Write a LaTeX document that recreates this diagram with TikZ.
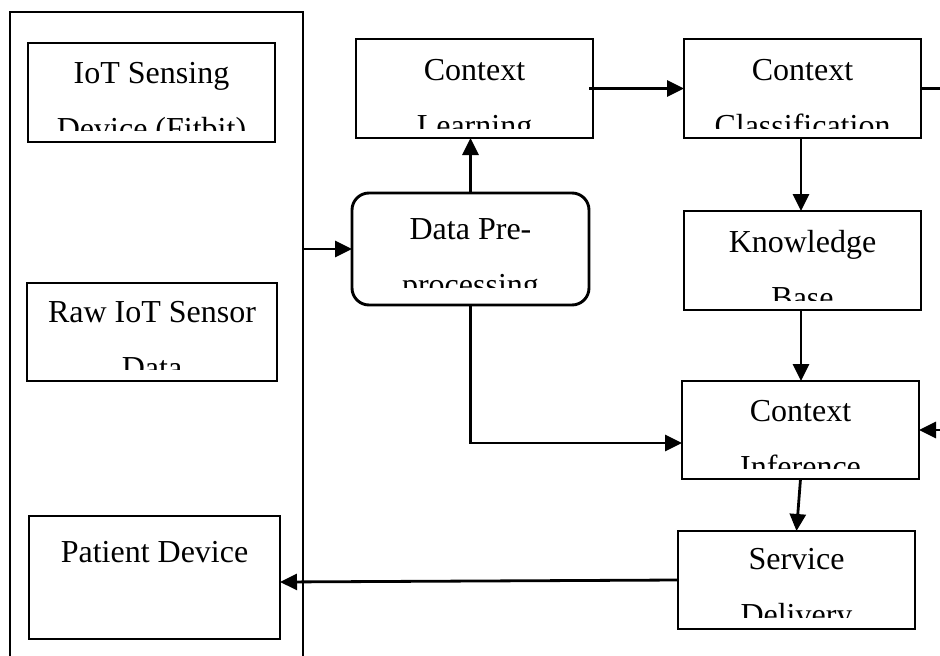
\documentclass[tikz,border=0pt]{standalone}
\usepackage{fontspec}
\setmainfont{Liberation Serif}
\usetikzlibrary{arrows.meta}

\tikzset{
  box/.style={draw, line width=2.9pt, inner sep=0pt, outer sep=0pt},
  roundbox/.style={box, rounded corners=17pt},
  lbl/.style={anchor=base, inner sep=0pt, font=\fontsize{32pt}{38pt}\selectfont},
  link/.style={line width=2.8pt},
  conn/.style={link, -{Triangle[length=17pt,width=16pt]}}
}

% Two-line label whose second line is cut off by the box's text area:
% #1 node, #2 first line, #3 second line, #4 baseline drop, #5 clip drop
\newcommand\twolines[5]{%
  \begin{scope}
    \clip (#1.north west) rectangle ([yshift=-#5pt]#1.north east);
    \node[lbl] at ([yshift=-#4pt]#1.north) {#2};
    \node[lbl] at ([yshift=-#4pt-56pt]#1.north) {#3};
  \end{scope}}

\begin{document}
\begin{tikzpicture}[x=1pt, y=-1pt]
  \useasboundingbox (0,0) rectangle (940,656);
  \clip (0,0) rectangle (940,656);

  % device column
  \node[box, minimum width=293pt, minimum height=688pt] (outer) at (156.5,356) {};
  \node[box, minimum width=247pt, minimum height=99pt]  (iot)     at (151.5,92.5) {};
  \node[box, minimum width=250pt, minimum height=98pt]  (raw)     at (152,332) {};
  \node[box, minimum width=251pt, minimum height=123pt] (patient) at (154.5,577.5) {};

  % processing pipeline
  \node[box, minimum width=237pt, minimum height=99pt]  (learn)   at (474.5,88.5) {};
  \node[box, minimum width=237pt, minimum height=99pt]  (classif) at (802.5,88.5) {};
  \node[roundbox, minimum width=237pt, minimum height=112pt] (prep) at (470.5,249) {};
  \node[box, minimum width=237pt, minimum height=99pt]  (kb)      at (802.5,260.5) {};
  \node[box, minimum width=237pt, minimum height=98pt]  (infer)   at (800.5,430) {};
  \node[box, minimum width=237pt, minimum height=98pt]  (serv)    at (796.5,580) {};

  % labels
  \twolines{iot}{IoT Sensing}{Device (Fitbit)}{40}{87}
  \twolines{raw}{Raw IoT Sensor}{Data}{39}{86}
  \node[lbl] at ([yshift=-46pt]patient.north) {Patient Device};
  \twolines{learn}{Context}{Learning}{41}{89}
  \twolines{classif}{Context}{Classification}{41}{89}
  \twolines{prep}{Data Pre-}{processing}{46}{94}
  \twolines{kb}{Knowledge}{Base}{41}{89}
  \twolines{infer}{Context}{Inference}{40}{87}
  \twolines{serv}{Service}{Delivery}{38}{86}

  % connectors
  \draw[conn] (prep.west -| outer.east) -- (prep.west);
  \draw[conn] (prep.north) -- (prep.north |- learn.south);
  \draw[conn] ([xshift=-4pt]learn.east) -- (classif.west);
  \draw[conn] (classif.south -| 801,0) -- (kb.north -| 801,0);
  \draw[conn] (kb.south -| 801,0) -- (infer.north -| 801,0);
  \draw[conn] (prep.south) |- ([yshift=-13pt]infer.west);
  \draw[conn] (classif.east) -- ++(40,0) |- (infer.east);
  \draw[conn] (infer.south) -- (serv.north);
  \draw[conn] (serv.west) -- ([yshift=-4.5pt]patient.east);
\end{tikzpicture}
\end{document}
